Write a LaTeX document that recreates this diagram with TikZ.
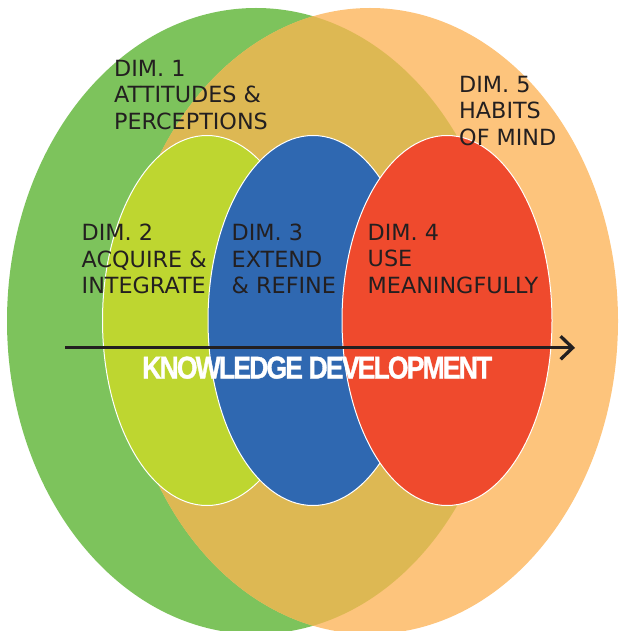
\documentclass[tikz,border=0pt]{standalone}
\usepackage{fontspec}
\setmainfont{DejaVu Sans}
\newfontfamily\kdfont[LetterSpace=-7,BoldFeatures={FakeBold=1.2}]{Liberation Sans}
\usetikzlibrary{arrows.meta}
\definecolor{cgreen}{HTML}{7DC35C}
\definecolor{corange}{HTML}{FDC47C}
\definecolor{ctan}{HTML}{DDB853}
\definecolor{cyellow}{HTML}{BED630}
\definecolor{cblue}{HTML}{2F68B1}
\definecolor{cred}{HTML}{EF4A2D}
\definecolor{ctext}{HTML}{231F20}
\tikzset{
  dimlabel/.style={anchor=north west, inner sep=0pt, align=left, text=ctext,
    font=\fontsize{22.3}{26.4}\selectfont},
  inner/.style={draw=white, line width=1pt},
}
\begin{document}
\begin{tikzpicture}[x=1pt,y=-1pt]
\useasboundingbox (0,0) rectangle (618,631);
% outer ellipses
\fill[cgreen] (256,321) ellipse [x radius=249pt, y radius=313pt];
\fill[corange] (370,321) ellipse [x radius=248pt, y radius=313pt];
\begin{scope}
  \clip (256,321) ellipse [x radius=249pt, y radius=313pt];
  \fill[ctan] (370,321) ellipse [x radius=248pt, y radius=313pt];
\end{scope}
% inner ellipses
\path[inner, fill=cyellow] (207,320.5) ellipse [x radius=104.5pt, y radius=185pt];
\path[inner, fill=cblue] (313,320.5) ellipse [x radius=105pt, y radius=185pt];
\path[inner, fill=cred] (447,320.5) ellipse [x radius=105pt, y radius=185pt];
% labels
\node[dimlabel] (d1) at (114,60) {DIM. 1\\ATTITUDES \&\\PERCEPTIONS};
\node[dimlabel] (d5) at (459,76) {DIM. 5\\HABITS\\OF MIND};
\node[dimlabel] (d2) at (81.5,224) {DIM. 2\\ACQUIRE \&\\INTEGRATE};
\node[dimlabel] (d3) at (231.5,224) {DIM. 3\\EXTEND\\\& REFINE};
\node[dimlabel] (d4) at (367.5,224) {DIM. 4\\USE\\MEANINGFULLY};
% arrow
\coordinate (as) at (65,347.8);
\coordinate (ae) at (575,347.8);
\draw[line width=3.3pt, ctext, -{Straight Barb[length=12pt, width=23pt]}] (as) -- (ae);
\node[anchor=base west, inner sep=0pt, text=white] (kd) at (142,378.5)
  {\resizebox{350pt}{22pt}{\kdfont\bfseries KNOWLEDGE DEVELOPMENT}};
\end{tikzpicture}
\end{document}
